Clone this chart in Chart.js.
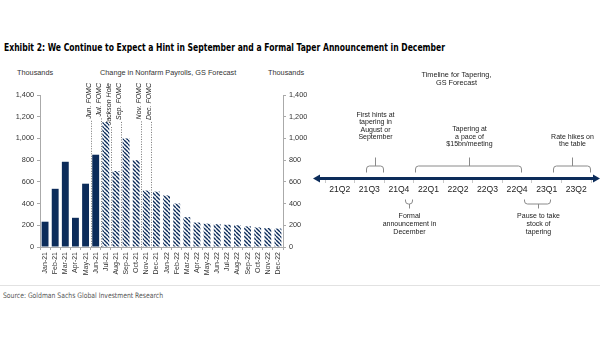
<!DOCTYPE html>
<html><head><meta charset="utf-8">
<script src="https://cdn.jsdelivr.net/npm/chart.js@4/dist/chart.umd.min.js"></script>
<style>
html,body{margin:0;padding:0;background:#fff;width:605px;height:341px;overflow:hidden;font-family:"Liberation Sans",Arial,sans-serif;}
.abs{position:absolute;white-space:nowrap;}
#title{left:4px;top:40px;font-family:"Liberation Sans Narrow","DejaVu Sans Condensed",sans-serif;font-weight:bold;font-size:10.5px;color:#000;line-height:14px;transform-origin:0 50%;}
.hdr{font-size:7.3px;color:#333;line-height:9px;top:68px;}
#rule{left:0;top:285px;width:600px;height:1px;background:#e2e2e2;}
#source{left:3px;top:291px;font-family:"Liberation Sans Narrow","DejaVu Sans Condensed",sans-serif;font-size:7.5px;color:#555;line-height:9px;transform-origin:0 50%;}
canvas{display:block;}
</style></head>
<body>
<div id="title" class="abs">Exhibit 2: We Continue to Expect a Hint in September and a Formal Taper Announcement in December</div>
<div class="abs hdr" style="left:17px">Thousands</div>
<div class="abs hdr" style="left:100px">Change in Nonfarm Payrolls, GS Forecast</div>
<div class="abs hdr" style="left:268px">Thousands</div>
<div class="abs" id="rule"></div>
<div class="abs" id="source">Source: Goldman Sachs Global Investment Research</div>
<div class="abs" style="left:0;top:60px;width:310px;height:225px"><canvas id="c1" width="310" height="225"></canvas></div>
<div class="abs" style="left:300px;top:60px;width:305px;height:200px"><canvas id="c2" width="305" height="200"></canvas></div>
<script>
// ---------- data ----------
const months = ['Jan-21','Feb-21','Mar-21','Apr-21','May-21','Jun-21','Jul-21','Aug-21','Sep-21','Oct-21','Nov-21','Dec-21',
                'Jan-22','Feb-22','Mar-22','Apr-22','May-22','Jun-22','Jul-22','Aug-22','Sep-22','Oct-22','Nov-22','Dec-22'];
const actualMonths = ['Jan-21','Feb-21','Mar-21','Apr-21','May-21','Jun-21'];
const actualPayrolls = [233, 536, 785, 269, 583, 850];
const forecastMonths = ['Jul-21','Aug-21','Sep-21','Oct-21','Nov-21','Dec-21','Jan-22','Feb-22','Mar-22','Apr-22','May-22','Jun-22',
                        'Jul-22','Aug-22','Sep-22','Oct-22','Nov-22','Dec-22'];
const forecastPayrolls = [1150, 700, 1000, 800, 520, 510, 475, 400, 275, 225, 215, 210, 205, 200, 190, 180, 175, 170];
const yTicks = [0, 200, 400, 600, 800, 1000, 1200, 1400];
const eventLabels = ['Jun. FOMC','Jul. FOMC','Jackson Hole','Sep. FOMC','Nov. FOMC','Dec. FOMC'];
const eventMonths = ['Jun-21','Jul-21','Aug-21','Sep-21','Nov-21','Dec-21'];

const quarters = ['21Q2','21Q3','21Q4','22Q1','22Q2','22Q3','22Q4','23Q1','23Q2'];
const noteTexts = [
  ['First hints at','tapering in','August or','September'],
  ['Formal','announcement in','December'],
  ['Tapering at','a pace of','$15bn/meeting'],
  ['Pause to take','stock of','tapering'],
  ['Rate hikes on','the table']
];
const noteFrom = ['2021-08','2021-12','2022-01','2022-12','2023-03'];
const noteTo   = ['2021-09','2021-12','2022-11','2023-02','2023-06'];
const noteSide = ['above','below','above','below','above'];

// ---------- styles ----------
const NAVY = '#0c2c5a';
const FONT = '"Liberation Sans", Arial, sans-serif';
const noteExtraGap = [7, 0, 0, 0, 0];

function fitWidth(id, target) {
  const el = document.getElementById(id);
  const w = el.getBoundingClientRect().width;
  if (w > 0) el.style.transform = 'scaleX(' + (target / w) + ')';
}
fitWidth('title', 441);
fitWidth('source', 160);

function hatch(){
  const s = 4, c = document.createElement('canvas'); c.width = s; c.height = s;
  const g = c.getContext('2d');
  g.fillStyle = '#fff'; g.fillRect(0,0,s,s);
  g.strokeStyle = NAVY; g.lineWidth = 1.4;
  for (const o of [-s, 0, s]) { g.beginPath(); g.moveTo(o, 0); g.lineTo(o + s, s); g.stroke(); }
  return c;
}
const c1 = document.getElementById('c1');
const pattern = c1.getContext('2d').createPattern(hatch(), 'repeat');

const actualData = months.map(m => { const i = actualMonths.indexOf(m); return i >= 0 ? actualPayrolls[i] : null; });
const forecastData = months.map(m => { const i = forecastMonths.indexOf(m); return i >= 0 ? forecastPayrolls[i] : null; });

const eventPlugin = {
  id: 'events',
  beforeDatasetsDraw(chart) {
    const ctx = chart.ctx, xs = chart.scales.x, area = chart.chartArea;
    const textTop = 23;
    ctx.save();
    ctx.font = 'italic 7px ' + FONT;
    ctx.fillStyle = '#222';
    eventLabels.forEach((lab, i) => {
      const idx = months.indexOf(eventMonths[i]);
      const x = Math.round((xs.getPixelForValue(idx - 1) + xs.getPixelForValue(idx)) / 2) + 0.5;
      const w = ctx.measureText(lab).width;
      ctx.strokeStyle = '#777'; ctx.lineWidth = 1; ctx.setLineDash([1, 1.5]);
      ctx.beginPath(); ctx.moveTo(x, textTop + w + 2); ctx.lineTo(x, area.bottom); ctx.stroke();
      ctx.setLineDash([]);
      ctx.save();
      ctx.translate(x - 0.5, textTop);
      ctx.rotate(-Math.PI / 2);
      ctx.textAlign = 'right'; ctx.textBaseline = 'alphabetic';
      ctx.fillText(lab, 0, 0);
      ctx.restore();
    });
    ctx.restore();
  }
};

new Chart(c1, {
  type: 'bar',
  data: {
    labels: months,
    datasets: [
      { data: actualData, backgroundColor: NAVY, grouped: false, barPercentage: 0.68, categoryPercentage: 1 },
      { data: forecastData, backgroundColor: pattern, grouped: false, barPercentage: 0.68, categoryPercentage: 1 }
    ]
  },
  options: {
    responsive: false, animation: false, devicePixelRatio: 1,
    layout: { padding: { top: 35, left: 0, right: 0, bottom: 0 } },
    plugins: { legend: { display: false }, tooltip: { enabled: false } },
    scales: {
      x: {
        grid: { offset: true, drawOnChartArea: false, tickLength: 3, color: '#aaa' },
        border: { color: '#aaa' },
        ticks: { autoSkip: false, maxRotation: 90, minRotation: 90, font: { size: 7, family: FONT }, color: '#333', padding: 2 },
        afterFit(s) { s.height = 38; }
      },
      y: {
        position: 'left', min: 0, max: 1400,
        afterBuildTicks(s) { s.ticks = yTicks.map(v => ({ value: v })); },
        grid: { drawOnChartArea: false, tickLength: 3, color: '#aaa' },
        border: { color: '#aaa' },
        ticks: { font: { size: 7.3, family: FONT }, color: '#333', padding: 3, callback: v => v.toLocaleString('en-US') },
        afterFit(s) { s.width = 40; }
      },
      y2: {
        position: 'right', min: 0, max: 1400,
        afterBuildTicks(s) { s.ticks = yTicks.map(v => ({ value: v })); },
        grid: { drawOnChartArea: false, tickLength: 3, color: '#aaa' },
        border: { color: '#aaa' },
        ticks: { font: { size: 7.3, family: FONT }, color: '#333', padding: 3, callback: v => v.toLocaleString('en-US') },
        afterFit(s) { s.width = 27; }
      }
    }
  },
  plugins: [eventPlugin]
});

// ---------- timeline ----------
function monthPixel(xs, ym, atEnd) {
  const [y, m] = ym.split('-').map(Number);
  const q = String(y % 100) + 'Q' + (Math.floor((m - 1) / 3) + 1);
  const idx = quarters.indexOf(q);
  const qw = xs.getPixelForValue(1) - xs.getPixelForValue(0);
  const left = xs.getPixelForValue(idx) - qw / 2 + ((m - 1) % 3) * qw / 3;
  return atEnd ? left + qw / 3 : left;
}

const timelinePlugin = {
  id: 'timeline',
  afterDraw(chart) {
    const ctx = chart.ctx, xs = chart.scales.x, area = chart.chartArea;
    const y = area.bottom - 0.5;
    ctx.save();
    ctx.font = '7.3px ' + FONT; ctx.fillStyle = '#222'; ctx.textAlign = 'center'; ctx.textBaseline = 'middle';
    const cx = (area.left - 12 + area.right + 9) / 2;
    ctx.fillText('Timeline for Tapering,', cx, 15);
    ctx.fillText('GS Forecast', cx, 23);
    const x0 = area.left - 12, x1 = area.right + 9, head = 7, hw = 4;
    ctx.strokeStyle = NAVY; ctx.fillStyle = NAVY; ctx.lineWidth = 3;
    ctx.beginPath(); ctx.moveTo(x0 + head - 1, y); ctx.lineTo(x1 - head + 1, y); ctx.stroke();
    ctx.beginPath(); ctx.moveTo(x0, y); ctx.lineTo(x0 + head, y - hw); ctx.lineTo(x0 + head, y + hw); ctx.closePath(); ctx.fill();
    ctx.beginPath(); ctx.moveTo(x1, y); ctx.lineTo(x1 - head, y - hw); ctx.lineTo(x1 - head, y + hw); ctx.closePath(); ctx.fill();
    ctx.strokeStyle = '#8a8a8a'; ctx.lineWidth = 1;
    ctx.font = '7px ' + FONT; ctx.fillStyle = '#222'; ctx.textAlign = 'center'; ctx.textBaseline = 'middle';
    const lh = 7.6;
    noteTexts.forEach((lines, i) => {
      const a = Math.round(monthPixel(xs, noteFrom[i], false) + 1.5) + 0.5;
      const b = Math.round(monthPixel(xs, noteTo[i], true) - 1.5) + 0.5;
      const mid = Math.round((a + b) / 2) + 0.5;
      const r = 3;
      if (noteSide[i] === 'above') {
        const hy = y - 12.5, ey = y - 6, ty = y - 21;
        ctx.beginPath();
        ctx.moveTo(a, ey); ctx.lineTo(a, hy + r); ctx.quadraticCurveTo(a, hy, a + r, hy);
        ctx.lineTo(b - r, hy); ctx.quadraticCurveTo(b, hy, b, hy + r); ctx.lineTo(b, ey);
        ctx.moveTo(mid, hy); ctx.lineTo(mid, ty);
        ctx.stroke();
        const lastY = ty - 13 - noteExtraGap[i];
        lines.forEach((t, k) => ctx.fillText(t, mid, lastY - (lines.length - 1 - k) * lh));
      } else {
        const hy = y + 25.5, ey = y + 21, ty = y + 30;
        ctx.beginPath();
        ctx.moveTo(a, ey); ctx.lineTo(a, hy - r); ctx.quadraticCurveTo(a, hy, a + r, hy);
        ctx.lineTo(b - r, hy); ctx.quadraticCurveTo(b, hy, b, hy - r); ctx.lineTo(b, ey);
        ctx.moveTo(mid, hy); ctx.lineTo(mid, ty);
        ctx.stroke();
        const firstY = ty + 8;
        lines.forEach((t, k) => ctx.fillText(t, mid, firstY + k * lh));
      }
    });
    ctx.restore();
  }
};

new Chart(document.getElementById('c2'), {
  type: 'bar',
  data: { labels: quarters, datasets: [{ data: quarters.map(() => null) }] },
  options: {
    responsive: false, animation: false, devicePixelRatio: 1,
    layout: { padding: { left: 25, right: 14, top: 0, bottom: 0 } },
    plugins: { legend: { display: false }, tooltip: { enabled: false } },
    scales: {
      x: {
        offset: true,
        grid: { offset: true, drawOnChartArea: false, tickLength: 4, color: '#c8c8c8' },
        border: { display: false },
        ticks: { autoSkip: false, maxRotation: 0, font: { size: 8.6, family: FONT }, color: '#222', padding: 1 },
        afterFit(s) { s.height = 81; }
      },
      y: { display: false, min: 0, max: 1 }
    }
  },
  plugins: [timelinePlugin]
});
</script>
</body></html>
